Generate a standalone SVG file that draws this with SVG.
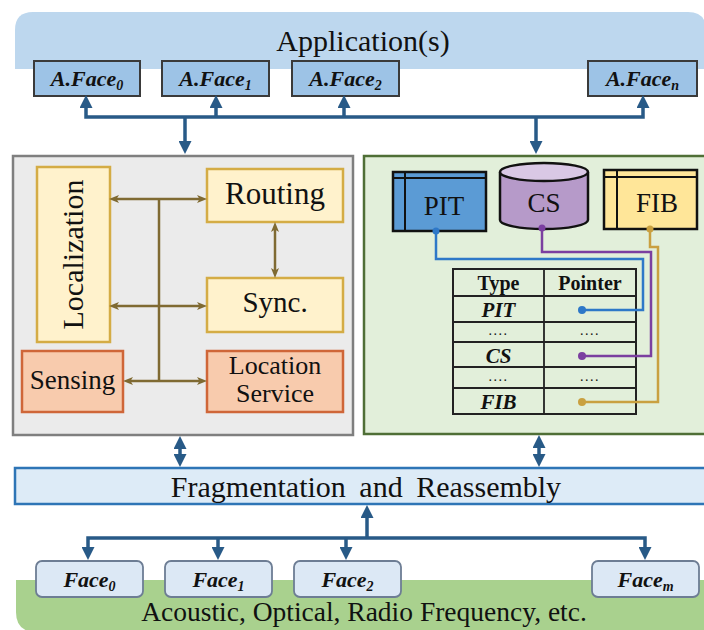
<svg xmlns="http://www.w3.org/2000/svg" width="704" height="630" viewBox="0 0 704 630">
  <defs>
    <style>
      .serif { font-family: "Liberation Serif", "Times New Roman", serif; fill: #111; }
      .lbl { font-size: 30px; text-anchor: middle; }
      .bi { font-weight: bold; font-style: italic; text-anchor: middle; }
      .aface { fill: #9dc3e6; stroke: #3a3a3a; stroke-width: 2; }
      .face { fill: #dce8f5; stroke: #6d7d94; stroke-width: 1.8; }
      .yel { fill: #fff2cc; stroke: #d4ac45; stroke-width: 2.5; }
      .org { fill: #f8cbad; stroke: #cf6638; stroke-width: 2.5; }
      .blue { fill: none; stroke: #285a87; stroke-width: 3.5; }
      .brown { fill: none; stroke: #7f6a32; stroke-width: 2.5; }
      .ptr { fill: none; stroke-width: 2.5; }
      .tbl { fill: none; stroke: #222; stroke-width: 1.8; }
    </style>
    <marker id="ab" viewBox="0 0 13 13" refX="4" refY="6.5" markerWidth="13" markerHeight="13" markerUnits="userSpaceOnUse" orient="auto-start-reverse">
      <path d="M0,0 L13,6.5 L0,13 Z" fill="#285a87"/>
    </marker>
    <marker id="br" viewBox="0 0 10 8" refX="3" refY="4" markerWidth="10" markerHeight="8" markerUnits="userSpaceOnUse" orient="auto-start-reverse">
      <path d="M0,0 L10,4 L0,8 L2.5,4 Z" fill="#7f6a32"/>
    </marker>
  </defs>

  <!-- application layer band -->
  <g id="application">
    <path d="M15,69 V30 Q15,12 33,12 H688 Q706,12 706,30 V69 Z" fill="#bdd7ee"/>
    <text class="serif lbl" x="363" y="51">Application(s)</text>
  </g>

  <g id="aface0">
    <rect class="aface" x="34" y="61" width="106" height="35"/>
    <text class="serif bi" x="87" y="86" font-size="22">A.Face<tspan font-size="14" dy="4">0</tspan></text>
  </g>
  <g id="aface1">
    <rect class="aface" x="162" y="61" width="107" height="35"/>
    <text class="serif bi" x="215.5" y="86" font-size="22">A.Face<tspan font-size="14" dy="4">1</tspan></text>
  </g>
  <g id="aface2">
    <rect class="aface" x="292" y="61" width="107" height="35"/>
    <text class="serif bi" x="345.5" y="86" font-size="22">A.Face<tspan font-size="14" dy="4">2</tspan></text>
  </g>
  <g id="afacen">
    <rect class="aface" x="588" y="61" width="109" height="35"/>
    <text class="serif bi" x="642.5" y="86" font-size="22">A.Face<tspan font-size="14" dy="4">n</tspan></text>
  </g>

  <!-- left panel: localization services -->
  <g id="services-panel">
    <rect x="13" y="156" width="340" height="279" fill="#ebebeb" stroke="#7f7f7f" stroke-width="2.5"/>
  </g>
  <g id="localization">
    <rect class="yel" x="37" y="167" width="73" height="175"/>
    <text class="serif" font-size="30" text-anchor="middle" transform="translate(83,254.5) rotate(-90)">Localization</text>
  </g>
  <g id="routing">
    <rect class="yel" x="207" y="169" width="136" height="53"/>
    <text class="serif" font-size="31" text-anchor="middle" x="275" y="204">Routing</text>
  </g>
  <g id="sync">
    <rect class="yel" x="207" y="278" width="136" height="54"/>
    <text class="serif" font-size="29" text-anchor="middle" x="275" y="312">Sync.</text>
  </g>
  <g id="sensing">
    <rect class="org" x="22" y="351" width="101" height="61"/>
    <text class="serif" font-size="27" text-anchor="middle" x="72.5" y="389">Sensing</text>
  </g>
  <g id="location-service">
    <rect class="org" x="207" y="351" width="136" height="61"/>
    <text class="serif" font-size="26" text-anchor="middle" x="275" y="374">Location</text>
    <text class="serif" font-size="26" text-anchor="middle" x="275" y="402">Service</text>
  </g>

  <!-- right panel: forwarding tables -->
  <g id="forwarding-panel">
    <rect x="364" y="156" width="346" height="278" fill="#e2efda" stroke="#4f6f36" stroke-width="2.5"/>
  </g>
  <g id="pit">
    <rect x="393" y="172" width="93" height="59" fill="#5b9bd5" stroke="#111" stroke-width="2.5"/>
    <path d="M405,172 V231 M393,178 H486" stroke="#111" stroke-width="2"/>
    <text class="serif" font-size="27" text-anchor="middle" x="444" y="215">PIT</text>
  </g>
  <g id="cs">
    <path d="M500,172 V220 A44,9 0 0 0 588,220 V172" fill="#b69ac9" stroke="#111" stroke-width="2.5"/>
    <ellipse cx="544" cy="172" rx="44" ry="9" fill="#d9c8e5" stroke="#111" stroke-width="2.5"/>
    <text class="serif" font-size="27" text-anchor="middle" x="544" y="212">CS</text>
  </g>
  <g id="fib">
    <rect x="604" y="170" width="93" height="59" fill="#ffe699" stroke="#111" stroke-width="2.5"/>
    <path d="M617,170 V229 M604,177 H697" stroke="#111" stroke-width="2"/>
    <text class="serif" font-size="27" text-anchor="middle" x="657" y="212">FIB</text>
  </g>
  <g id="face-table">
    <rect x="453" y="269" width="183" height="145" fill="#e2efda" stroke="#222" stroke-width="2"/>
    <path class="tbl" d="M453,296 H636 M453,322 H636 M453,342 H636 M453,367 H636 M453,388 H636 M544,269 V414"/>
    <text class="serif" font-size="20" font-weight="bold" text-anchor="middle" x="498.5" y="290">Type</text>
    <text class="serif" font-size="20" font-weight="bold" text-anchor="middle" x="590" y="290">Pointer</text>
    <text class="serif bi" font-size="21" x="498.5" y="317">PIT</text>
    <text class="serif" font-size="14" text-anchor="middle" x="498.5" y="335" letter-spacing="1.5">....</text>
    <text class="serif" font-size="14" text-anchor="middle" x="590" y="335" letter-spacing="1.5">....</text>
    <text class="serif bi" font-size="21" x="498.5" y="363">CS</text>
    <text class="serif" font-size="14" text-anchor="middle" x="498.5" y="381" letter-spacing="1.5">....</text>
    <text class="serif" font-size="14" text-anchor="middle" x="590" y="381" letter-spacing="1.5">....</text>
    <text class="serif bi" font-size="21" x="498.5" y="409">FIB</text>
  </g>

  <!-- fragmentation layer -->
  <g id="fragmentation">
    <rect x="15" y="468" width="695" height="36" fill="#ddebf7" stroke="#2e75b6" stroke-width="2.5"/>
    <text class="serif lbl" x="366" y="497" word-spacing="6">Fragmentation and Reassembly</text>
  </g>

  <!-- physical media band -->
  <g id="media">
    <path d="M16,580 H706 V632 H36 Q16,632 16,612 Z" fill="#a9d18e"/>
    <text class="serif" font-size="27.5" text-anchor="middle" x="364" y="621">Acoustic, Optical, Radio Frequency, etc.</text>
  </g>

  <g id="face0">
    <rect class="face" x="36" y="561" width="107" height="36" rx="6"/>
    <text class="serif bi" x="89.5" y="587" font-size="22">Face<tspan font-size="14" dy="4">0</tspan></text>
  </g>
  <g id="face1">
    <rect class="face" x="165" y="561" width="107" height="36" rx="6"/>
    <text class="serif bi" x="218.5" y="587" font-size="22">Face<tspan font-size="14" dy="4">1</tspan></text>
  </g>
  <g id="face2">
    <rect class="face" x="294" y="561" width="107" height="36" rx="6"/>
    <text class="serif bi" x="347.5" y="587" font-size="22">Face<tspan font-size="14" dy="4">2</tspan></text>
  </g>
  <g id="facem">
    <rect class="face" x="592" y="561" width="107" height="36" rx="6"/>
    <text class="serif bi" x="645.5" y="587" font-size="22">Face<tspan font-size="14" dy="4">m</tspan></text>
  </g>

  <!-- connectors -->
  <g id="connectors">
    <!-- application bus -->
    <path class="blue" d="M86,104 V117 H643 V104" marker-start="url(#ab)" marker-end="url(#ab)"/>
    <path class="blue" d="M216,117 V104" marker-end="url(#ab)"/>
    <path class="blue" d="M344,117 V104" marker-end="url(#ab)"/>
    <path class="blue" d="M185,117 V145" marker-end="url(#ab)"/>
    <path class="blue" d="M536,117 V145" marker-end="url(#ab)"/>
    <!-- panels to fragmentation -->
    <path class="blue" d="M180,445 V458" marker-start="url(#ab)" marker-end="url(#ab)"/>
    <path class="blue" d="M539,444 V458" marker-start="url(#ab)" marker-end="url(#ab)"/>
    <!-- face bus -->
    <path class="blue" d="M367,538 V514" marker-end="url(#ab)"/>
    <path class="blue" d="M88,551 V538 H645 V551" marker-start="url(#ab)" marker-end="url(#ab)"/>
    <path class="blue" d="M218,538 V551" marker-end="url(#ab)"/>
    <path class="blue" d="M346,538 V551" marker-end="url(#ab)"/>

    <!-- service interconnect -->
    <path class="brown" d="M159,199 V381"/>
    <path class="brown" d="M116,199 H200" marker-start="url(#br)" marker-end="url(#br)"/>
    <path class="brown" d="M116,306 H200" marker-start="url(#br)" marker-end="url(#br)"/>
    <path class="brown" d="M130,381 H200" marker-start="url(#br)" marker-end="url(#br)"/>
    <path class="brown" d="M275,229 V271" marker-start="url(#br)" marker-end="url(#br)"/>

    <!-- table pointers -->
    <path class="ptr" stroke="#2e78c8" d="M436,231 V259 H643 V310 H582"/>
    <circle cx="436" cy="231" r="3.5" fill="#2e78c8"/>
    <circle cx="582" cy="310" r="4" fill="#2e78c8"/>
    <path class="ptr" stroke="#7b3fa0" d="M542,228 V252 H651 V356 H582"/>
    <circle cx="542" cy="228" r="3.5" fill="#7b3fa0"/>
    <circle cx="582" cy="356" r="4" fill="#7b3fa0"/>
    <path class="ptr" stroke="#c9a040" d="M650,229 V247 H658 V402 H582"/>
    <circle cx="650" cy="229" r="3.5" fill="#c9a040"/>
    <circle cx="582" cy="402" r="4" fill="#c9a040"/>
  </g>
</svg>
